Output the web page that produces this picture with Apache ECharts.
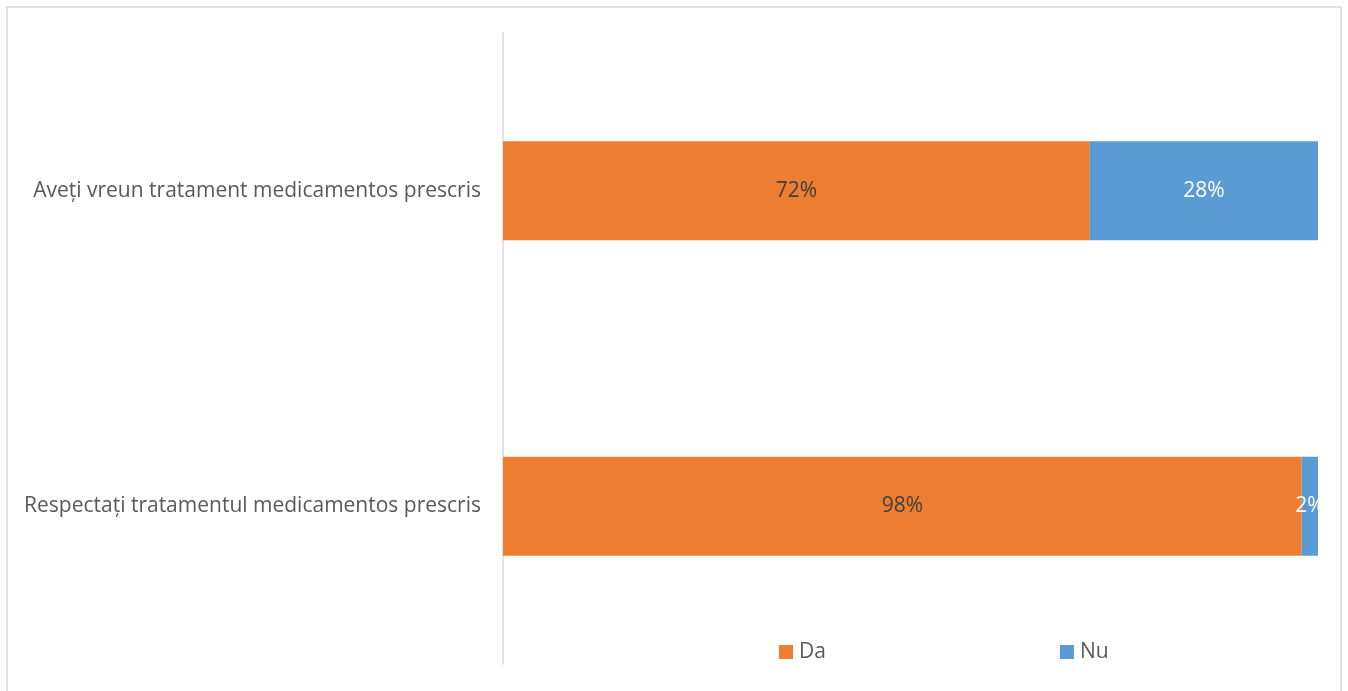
<!DOCTYPE html>
<html>
<head>
<meta charset="utf-8">
<script src="https://cdn.jsdelivr.net/npm/echarts@6/dist/echarts.min.js"></script>
<style>
html,body{margin:0;padding:0;background:#fff;}
#chart{width:1348px;height:691px;}
</style>
</head>
<body>
<div id="chart"></div>
<script>
const categories = ['Respectați tratamentul medicamentos prescris', 'Aveți vreun tratament medicamentos prescris'];
const seriesNames = ['Da', 'Nu'];
const daValues = [98, 72];
const nuValues = [2, 28];

const chart = echarts.init(document.getElementById('chart'));
const fontFam = '"Open Sans", "Liberation Sans", sans-serif';
chart.setOption({
  animation: false,
  backgroundColor: '#fff',
  graphic: [{
    type: 'rect',
    shape: {x: 7, y: 7, width: 1334, height: 700},
    style: {fill: 'none', stroke: '#d9d9d9', lineWidth: 1.5},
    silent: true
  }],
  grid: {left: 503, right: 30, top: 33, bottom: 27, containLabel: false},
  legend: {
    data: seriesNames,
    top: 641,
    left: 779,
    padding: 0,
    itemWidth: 14,
    itemHeight: 14,
    itemGap: 234,
    icon: 'rect',
    textStyle: {color: '#595959', fontSize: 21, lineHeight: 22, fontFamily: fontFam, padding: [0,0,0,1]}
  },
  xAxis: {
    type: 'value', min: 0, max: 100, show: false
  },
  yAxis: {
    type: 'category',
    data: categories,
    axisLine: {show: true, lineStyle: {color: '#d9d9d9', width: 1.5}},
    axisTick: {show: false},
    axisLabel: {color: '#595959', fontSize: 21, fontFamily: fontFam, margin: 22}
  },
  series: [
    {
      name: 'Da', type: 'bar', stack: 'total', data: daValues, barWidth: 99,
      itemStyle: {color: '#ED7D31'},
      label: {show: true, position: 'inside', formatter: '{c}%', color: '#404040', fontSize: 21, fontFamily: fontFam}
    },
    {
      name: 'Nu', type: 'bar', stack: 'total', data: nuValues, barWidth: 99,
      itemStyle: {color: '#5B9BD5'},
      label: {show: true, position: 'inside', formatter: '{c}%', color: '#ffffff', fontSize: 21, fontFamily: fontFam}
    }
  ]
});
</script>
</body>
</html>
